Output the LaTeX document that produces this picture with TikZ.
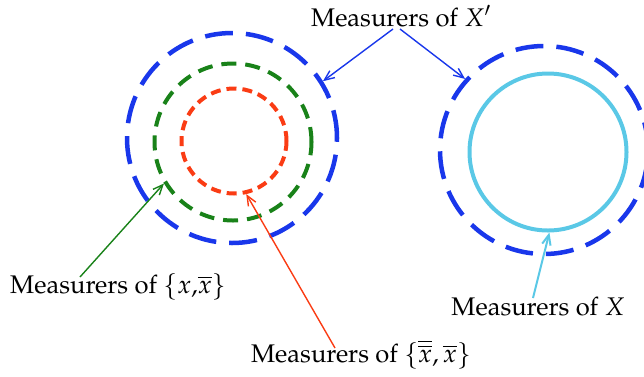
\documentclass[tikz,border=0pt]{standalone}
\usepackage[T1]{fontenc}
\usepackage{mathpazo}
\usetikzlibrary{arrows.meta}

\definecolor{azulfuera}{RGB}{25,55,235}
\definecolor{verde}{RGB}{25,130,25}
\definecolor{rojo}{RGB}{250,60,20}
\definecolor{celeste}{RGB}{90,200,230}

\begin{document}
\begin{tikzpicture}[
        x=1pt, y=-1pt,
        anillo/.style={circle, draw, inner sep=0pt, line width=4pt},
        rotulo/.style={anchor=base, inner sep=0pt, font=\fontsize{25.5}{30}\selectfont},
        flecha/.style={-{Straight Barb[length=3.5mm,width=3mm]}, line width=1.4pt}
    ]
        \useasboundingbox (0,0) rectangle (644,376);

        % left group
        \node[anillo, azulfuera, minimum size=210pt, line width=4.5pt,
              dash pattern=on 28pt off 13pt] (fueraL) at (232,138) {};
        \node[anillo, verde, minimum size=157pt,
              dash pattern=on 15pt off 9pt] (medio) at (233,142) {};
        \node[anillo, rojo, minimum size=105pt,
              dash pattern=on 10pt off 6pt] (dentro) at (234,141) {};

        % right group
        \node[anillo, azulfuera, minimum size=208pt, line width=4.5pt,
              dash pattern=on 28pt off 13pt] (fueraR) at (544,150) {};
        \node[anillo, celeste, minimum size=157pt] (solido) at (548,152) {};

        % labels
        \node[rotulo] (lblXp) at (401,26) {Measurers of $X'$};
        \node[rotulo] (lblxxb) at (118,293) {Measurers of $\{x{,}\overline{x}\}$};
        \node[rotulo] (lblxbb) at (361,362) {Measurers of $\{\overline{\overline{x}},\overline{x}\}$};
        \node[rotulo] (lblX) at (538,315) {Measurers of $X$};

        \draw[flecha, azulfuera] ([xshift=-8pt,yshift=-3pt]lblXp.base) -- (fueraL.32);
        \draw[flecha, azulfuera] ([xshift=-1pt,yshift=-3pt]lblXp.base) -- (fueraR.138);
        \draw[flecha, verde] ([xshift=-38pt,yshift=16pt]lblxxb.base) -- (medio.211);
        \draw[flecha, rojo] ([xshift=-26pt,yshift=14pt]lblxbb.base) -- (dentro.283);
        \draw[flecha, celeste, line width=2pt] ([xshift=-5pt,yshift=17pt]lblX.base) -- (solido.271);
    \end{tikzpicture}
\end{document}
